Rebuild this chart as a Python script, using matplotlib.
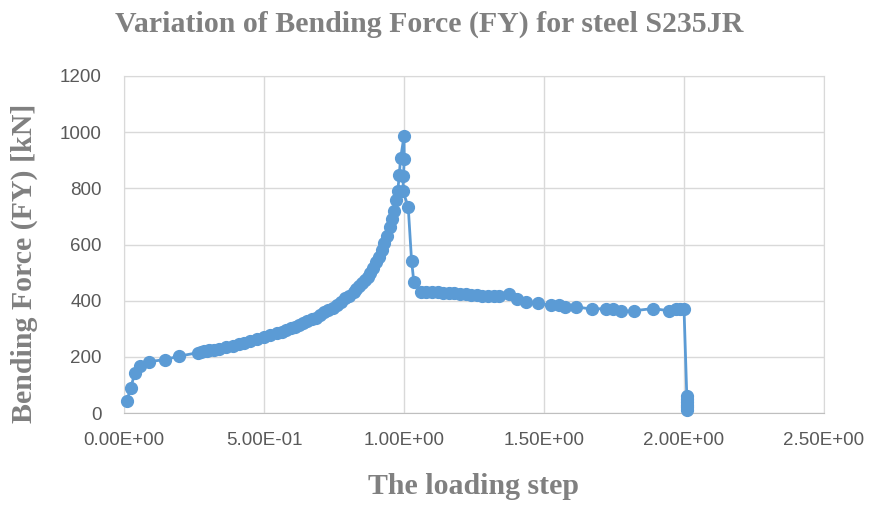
import matplotlib.pyplot as plt
from matplotlib.ticker import FormatStrFormatter

# loading step / bending force values
step = [0.01, 0.024, 0.039, 0.057, 0.09, 0.145, 0.195,
        0.265, 0.275, 0.285, 0.295, 0.305, 0.32, 0.34, 0.365, 0.39, 0.41,
        0.43, 0.45, 0.475, 0.50, 0.52, 0.545, 0.565, 0.58, 0.595, 0.61,
        0.625, 0.64, 0.655, 0.67, 0.685, 0.70, 0.715, 0.73, 0.745, 0.76,
        0.775, 0.79, 0.805, 0.82, 0.83, 0.84, 0.85, 0.86, 0.87, 0.88,
        0.89, 0.90, 0.91, 0.92, 0.93, 0.94, 0.95, 0.958, 0.965, 0.972,
        0.978, 0.983, 0.988, 1.0, 1.001, 0.998, 0.996, 1.015, 1.027, 1.035,
        1.06, 1.08, 1.10, 1.12, 1.14, 1.16, 1.18, 1.20, 1.22, 1.24, 1.26,
        1.28, 1.30, 1.32, 1.34, 1.375, 1.405, 1.435, 1.48, 1.525, 1.555,
        1.575, 1.615, 1.67, 1.72, 1.745, 1.775, 1.82, 1.89, 1.945, 1.97,
        1.985, 2.0, 2.01, 2.01, 2.01, 2.01, 2.01, 2.01]
force = [42, 90, 143, 169, 183, 190, 202,
         215, 218, 220, 221, 223, 226, 229, 234, 239, 244,
         250, 258, 264, 272, 277, 284, 290, 295, 301, 306,
         312, 319, 326, 333, 340, 350, 358, 366, 375, 386,
         396, 408, 418, 430, 440, 452, 463, 474, 486, 500,
         518, 536, 557, 580, 605, 630, 662, 690, 720, 760,
         790, 849, 908, 985, 905, 845, 790, 735, 543, 468,
         432, 430, 430, 430, 428, 426, 426, 424, 422, 420, 420,
         418, 418, 418, 418, 422, 405, 395, 390, 384, 384,
         377, 378, 370, 372, 370, 362, 364, 372, 364, 372,
         370, 372, 60, 50, 40, 30, 20, 10]

blue = '#5B9BD5'
grey_txt = '#808080'
W, H = 869, 505

fig = plt.figure(figsize=(8.69, 5.05), dpi=100)
ax = fig.add_axes([124 / W, 1 - 413 / H, 700 / W, 337 / H])

ax.plot(step, force, color=blue, linewidth=2, marker='o', markersize=8.5,
        markeredgecolor=blue, markerfacecolor=blue, zorder=3, clip_on=False)

ax.set_xlim(0, 2.5)
ax.set_ylim(0, 1200)
ax.set_xticks([0, 0.5, 1.0, 1.5, 2.0, 2.5])
ax.set_yticks(range(0, 1201, 200))
ax.xaxis.set_major_formatter(FormatStrFormatter('%.2E'))
ax.grid(True, color='#D9D9D9', linewidth=1)
ax.set_axisbelow(True)
for s in ax.spines.values():
    s.set_color('#D9D9D9')
ax.spines['bottom'].set_color('#BFBFBF')
ax.tick_params(length=0, labelsize=13.5, labelcolor='#595959')
ax.tick_params(axis='y', pad=16)
ax.tick_params(axis='x', pad=14)
for lab in ax.get_xticklabels() + ax.get_yticklabels():
    lab.set_family('Liberation Sans')

serif = dict(family='Liberation Serif', fontweight='bold', fontsize=21.5,
             color=grey_txt, ha='center', va='baseline', rotation_mode='anchor')
fig.text(429 / W, 1 - 32 / H, 'Variation of Bending Force (FY) for steel S235JR', **serif)
fig.text(473.5 / W, 1 - 494 / H, 'The loading step', **serif)
fig.text(32 / W, 1 - 263 / H, 'Bending Force (FY) [kN]', rotation=90, **serif)

fig.savefig('out.png', dpi=100)
